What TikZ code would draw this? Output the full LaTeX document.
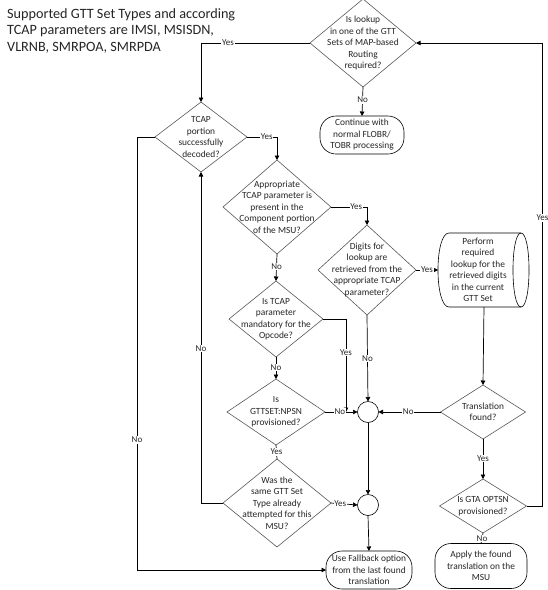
\documentclass[tikz,border=0pt]{standalone}
\usepackage{fontspec}
\setmainfont{Carlito}
\usetikzlibrary{shapes.geometric,arrows.meta}
\begin{document}
\begin{tikzpicture}[x=1pt,y=-1pt,
  dia/.style={diamond, draw=black!65, line width=0.6pt, inner sep=0pt, outer sep=0pt},
  term/.style={rectangle, rounded corners=16pt, draw=black, line width=0.6pt, inner sep=0pt, outer sep=0pt},
  txt/.style={align=center, inner sep=0pt, font=\fontsize{9.4}{11.5}\selectfont, text=black!85},
  junc/.style={circle, draw=black, line width=0.6pt, minimum size=21pt, inner sep=0pt, outer sep=0pt},
  arr/.style={draw=black, line width=0.7pt, -{Triangle[length=4.5pt,width=4.5pt]}},
  ln/.style={draw=black, line width=0.7pt},
  shp/.style={draw=black, line width=0.6pt},
  lbl/.style={fill=white, inner sep=0.8pt, font=\fontsize{9}{10}\selectfont, text=black!85}]
\useasboundingbox (0,0) rectangle (548,590);
\fill[white] (0,0) rectangle (548,590);

\node[anchor=north west, align=left, inner sep=0pt, font=\fontsize{14.2}{16.5}\selectfont, text=black!85] (title) at (7,8)
  {Supported GTT Set Types and according\\TCAP parameters are IMSI, MSISDN,\\VLRNB, SMRPOA, SMRPDA};

% nodes
\node[dia, minimum width=106pt, minimum height=88pt] (d1) at (363,43) {};
\node[txt] (d1t) at (d1) {Is lookup\\in one of the GTT\\Sets of MAP-based\\Routing\\required?};

\node[term, minimum width=84pt, minimum height=38pt] (cont) at (362,135) {};
\node[txt] (contt) at (cont) {Continue with\\normal FLOBR/\\TOBR processing};

\node[dia, minimum width=92pt, minimum height=70pt] (tcap) at (201,137) {};
\node[txt] (tcapt) at (tcap) {TCAP\\portion\\successfully\\decoded?};

\node[dia, minimum width=108pt, minimum height=94pt] (app) at (277,207) {};
\node[txt] (appt) at (app) {Appropriate\\TCAP parameter is\\present in the\\Component portion\\of the MSU?};

\node[dia, minimum width=98pt, minimum height=90pt] (dig) at (367,270) {};
\node[txt] (digt) at (dig) {Digits for\\lookup are\\retrieved from the\\appropriate TCAP\\parameter?};

% horizontal cylinder (stored data)
\node[rectangle, minimum width=92pt, minimum height=74pt, inner sep=0pt, outer sep=0pt] (cyl) at (484,270) {};
\draw[shp] (449,233) -- (521,233) .. controls (531.7,233) and (531.7,307) .. (521,307)
  -- (449,307) .. controls (434.3,307) and (434.3,233) .. (449,233) -- cycle;
\draw[shp] (521,233) .. controls (510.3,233) and (510.3,307) .. (521,307);
\node[txt] (cylt) at (478,270) {Perform\\required\\lookup for the\\retrieved digits\\in the current\\GTT Set};

\node[dia, minimum width=94pt, minimum height=76pt] (istcap) at (276,319) {};
\node[txt] (istcapt) at (istcap) {Is TCAP\\parameter\\mandatory for the\\Opcode?};

\node[dia, minimum width=98pt, minimum height=66pt] (gtt) at (276,412) {};
\node[txt] (gttt) at (gtt) {Is\\GTTSET:NPSN\\provisioned?};

\node[dia, minimum width=108pt, minimum height=88pt] (was) at (277,503) {};
\node[txt] (wast) at (was) {Was the\\same GTT Set\\Type already\\attempted for this\\MSU?};

\node[junc] (c1) at (368,412) {};
\node[junc] (c2) at (368,505) {};

\node[dia, minimum width=85pt, minimum height=54pt] (trans) at (483,412) {};
\node[txt] (transt) at (trans) {Translation\\found?};

\node[dia, minimum width=87pt, minimum height=54pt] (gta) at (483,506) {};
\node[txt] (gtat) at (gta) {Is GTA OPTSN\\provisioned?};

\node[term, minimum width=86pt, minimum height=38pt] (fb) at (369,570) {};
\node[txt] (fbt) at (fb) {Use Fallback option\\from the last found\\translation};

\node[term, minimum width=92pt, minimum height=45pt] (apply) at (481,566) {};
\node[txt] (applyt) at (apply) {Apply the found\\translation on the\\MSU};

\coordinate (m1) at (346,412);

% connectors
\draw[arr] (d1.west) -| (tcap.north) node[lbl, pos=0.376] {Yes};
\draw[arr] (gta.east) -- ++(16,0) |- (d1.east) node[lbl, pos=0.311] {Yes};
\draw[arr] (d1.south) -- (cont.north) node[lbl, pos=0.45] {No};
\draw[arr] (tcap.east) -| (app.north) node[lbl, pos=0.33] {Yes};
\draw[arr] (app.east) -| (dig.north) node[lbl, pos=0.35] {Yes};
\draw[arr] (dig.east) -- (cyl.west) node[lbl, pos=0.5] {Yes};
\draw[arr] (cyl.south) -- (trans.north);
\draw[arr] (trans.west) -- (c1.east) node[lbl, pos=0.52] {No};
\draw[arr] (dig.south) -- (c1.north) node[lbl, pos=0.5] {No};
\draw[arr] (app.south) -- (istcap.north) node[lbl, pos=0.46] {No};
\draw[arr] (istcap.east) -| (m1) node[lbl, pos=0.68] {Yes};
\draw[arr] (istcap.south) -- (gtt.north) node[lbl, pos=0.48] {No};
\draw[arr] (gtt.east) -- (c1.west) node[lbl, pos=0.46] {No};
\draw[ln] (gtt.south) -- (was.north) node[lbl, pos=0.5] {Yes};
\draw[arr] (was.west) -| (tcap.south) node[lbl, pos=0.733] {No};
\draw[arr] (was.east) -- (c2.west) node[lbl, pos=0.35] {Yes};
\draw[arr] (c1.south) -- (c2.north);
\draw[arr] (c2.south) -- (fb.north);
\draw[arr] (tcap.west) -- ++(-18,0) |- (fb.west) node[lbl, pos=0.35] {No};
\draw[arr] (trans.south) -- (gta.north) node[lbl, pos=0.49] {Yes};
\draw[ln] (gta.south) -- (apply.north) node[lbl, pos=0.5] {No};
\end{tikzpicture}
\end{document}
